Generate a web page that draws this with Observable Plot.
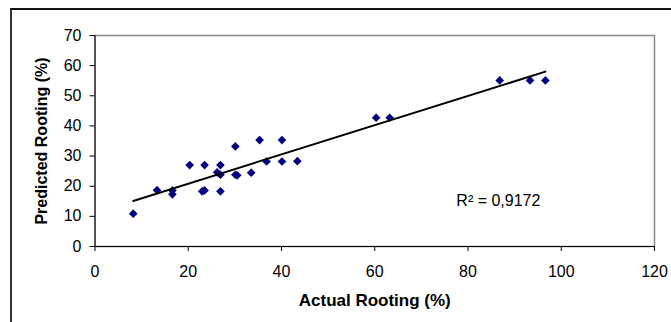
<!DOCTYPE html>
<html><head><meta charset="utf-8">
<script src="https://cdn.jsdelivr.net/npm/d3@7"></script>
<script src="https://cdn.jsdelivr.net/npm/@observablehq/plot@0.6"></script>
<style>
body{margin:0;background:#fff;overflow:hidden}
#wrap{position:relative;width:671px;height:322px;overflow:hidden;background:#fff}
#border{position:absolute;left:10px;top:8px;width:700px;height:400px;border-left:2px solid #333;border-top:2px solid #111;box-sizing:border-box}
#wrap svg{position:absolute;left:0;top:0}
</style></head><body>
<div id="wrap"><div id="border"></div></div>
<script>
const actual    = [8.2, 13.3, 16.6, 16.6, 20.3, 23.5, 23.0, 23.5, 26.2, 26.9, 26.9, 26.9, 30.1, 30.1, 30.5, 33.5, 35.3, 36.8, 40.1, 40.1, 43.4, 60.3, 63.2, 86.8, 93.3, 96.6];
const predicted = [10.9, 18.7, 18.6, 17.3, 27.0, 27.0, 18.3, 18.6, 24.6, 27.0, 23.8, 18.3, 33.2, 23.8, 23.6, 24.5, 35.3, 28.2, 35.3, 28.2, 28.3, 42.7, 42.7, 55.1, 55.1, 55.1];
const xTicks = [0, 20, 40, 60, 80, 100, 120];
const yTicks = [0, 10, 20, 30, 40, 50, 60, 70];
const xLabel = "Actual Rooting (%)";
const yLabel = "Predicted Rooting (%)";
const r2Label = "R² = 0,9172";
const r2At = {x: 77.5, y: 15};

const data = actual.map((a, i) => ({actual: a, predicted: predicted[i]}));

const chart = Plot.plot({
  width: 671, height: 322,
  marginLeft: 94.5, marginRight: 17, marginTop: 35, marginBottom: 76,
  style: {fontFamily: "'Liberation Sans', Arial, sans-serif", fontSize: "16px", color: "#000", background: "transparent", overflow: "visible"},
  x: {domain: [0, 120]},
  y: {domain: [0, 70]},
  marks: [
    Plot.frame({stroke: "#8a8a8a", strokeWidth: 1.5}),
    Plot.ruleX([0], {stroke: "#000"}),
    Plot.ruleY([0], {stroke: "#000"}),
    Plot.axisX({ticks: xTicks, tickSize: 5, tickPadding: 14.5, label: null, fontSize: 16, tickFormat: d => d}),
    Plot.axisY({ticks: yTicks, tickSize: 5, tickPadding: 8.5, label: null, fontSize: 16, tickFormat: d => d}),
    Plot.dot(data, {x: "actual", y: "predicted", symbol: "diamond2", r: 3.9, fill: "#000080", stroke: "none"}),
    Plot.linearRegressionY(data, {x: "actual", y: "predicted", stroke: "#000", strokeWidth: 2, ci: 0}),
    Plot.text([r2Label], {x: () => r2At.x, y: () => r2At.y, text: d => d, textAnchor: "start", lineAnchor: "middle", fontSize: 16}),
    Plot.text([xLabel], {text: d => d, frameAnchor: "bottom", dy: 54, textAnchor: "middle", lineAnchor: "middle", fontWeight: "bold", fontSize: 17}),
    Plot.text([yLabel], {text: d => d, frameAnchor: "left", dx: -52.8, rotate: -90, textAnchor: "middle", lineAnchor: "middle", fontWeight: "bold", fontSize: 16})
  ]
});
document.getElementById("wrap").appendChild(chart);
</script>
</body></html>
